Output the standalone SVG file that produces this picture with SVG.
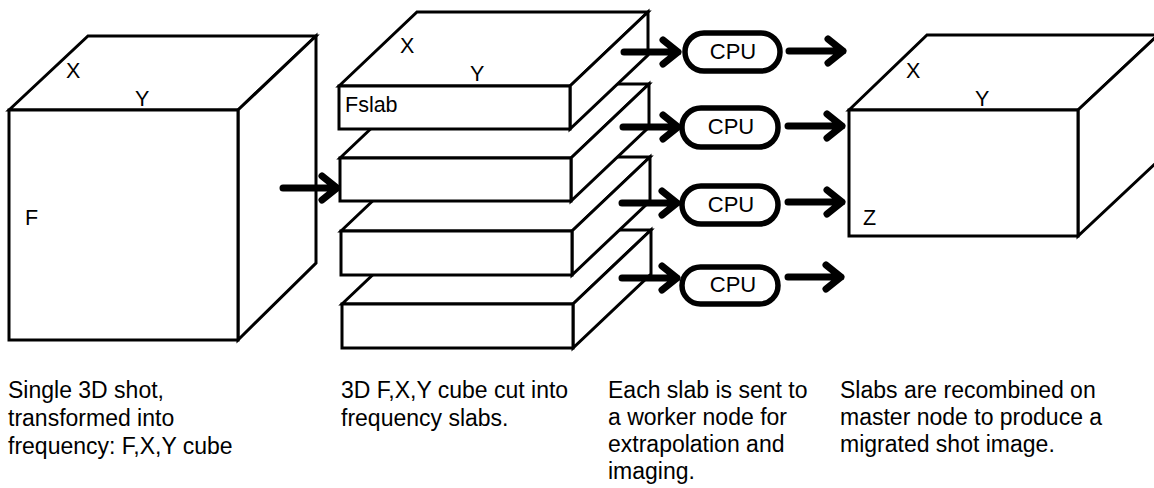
<svg xmlns="http://www.w3.org/2000/svg" width="1154" height="488" viewBox="0 0 1154 488">
<style>
.s{fill:#fff;stroke:#000;stroke-width:3;stroke-linejoin:miter}
.a{fill:none;stroke:#000;stroke-width:7;stroke-linecap:round;stroke-linejoin:round}
.p{fill:#fff;stroke:#000;stroke-width:5.5}
.l{font-family:"Liberation Sans",Arial,sans-serif;font-size:21.5px;fill:#000}
.c{font-family:"Liberation Sans",Arial,sans-serif;font-size:22px;fill:#000;text-anchor:middle}
.t{font-family:"Liberation Sans",Arial,sans-serif;font-size:23px;fill:#000}
</style>
<rect width="1154" height="488" fill="#fff"/>
<g id="cube">
<polygon class="s" points="9,110 88,36 316,36 238,110"/>
<polygon class="s" points="238,110 316,36 316,263 238,340"/>
<rect class="s" x="9" y="110" width="229" height="230"/>
<text class="l" x="66" y="78">X</text>
<text class="l" x="135" y="106">Y</text>
<text class="l" x="25" y="225">F</text>
</g>
<g id="slab4">
<polygon class="s" points="342,304 420,230 651,230 573,304"/>
<polygon class="s" points="573,304 651,230 651,274 573,348"/>
<rect class="s" x="342" y="304" width="231" height="44"/>
</g>
<g id="slab3">
<polygon class="s" points="341,231 419,157 650,157 572,231"/>
<polygon class="s" points="572,231 650,157 650,201 572,275"/>
<rect class="s" x="341" y="231" width="231" height="44"/>
</g>
<g id="slab2">
<polygon class="s" points="340,158 418,84 649,84 571,158"/>
<polygon class="s" points="571,158 649,84 649,127 571,201"/>
<rect class="s" x="340" y="158" width="231" height="43"/>
</g>
<g id="slab1">
<polygon class="s" points="339,86 417,12 648,12 570,86"/>
<polygon class="s" points="570,86 648,12 648,55 570,129"/>
<rect class="s" x="339" y="86" width="231" height="43"/>
<text class="l" x="400" y="53">X</text>
<text class="l" x="470" y="81">Y</text>
<text class="l" x="345" y="112">Fslab</text>
</g>
<g id="cpu1"><rect class="p" x="685" y="33" width="95" height="38" rx="19"/><text class="c" x="733" y="59">CPU</text></g>
<g id="cpu2"><rect class="p" x="682" y="108" width="96" height="39" rx="19"/><text class="c" x="731" y="134">CPU</text></g>
<g id="cpu3"><rect class="p" x="682" y="186" width="96" height="38" rx="19"/><text class="c" x="731" y="212">CPU</text></g>
<g id="cpu4"><rect class="p" x="682" y="267" width="96" height="37" rx="18.5"/><text class="c" x="733" y="292">CPU</text></g>
<g id="result">
<polygon class="s" points="849,110 927,35 1158,35 1078,110"/>
<polygon class="s" points="1078,110 1158,35 1158,161 1078,236"/>
<rect class="s" x="849" y="110" width="229" height="126"/>
<text class="l" x="906" y="78">X</text>
<text class="l" x="975" y="106">Y</text>
<text class="l" x="863" y="225">Z</text>
</g>
<g id="connectors">
<path class="a" d="M283,188 H337 M322,176 L337,188 L322,200"/>
<path class="a" d="M624,52 H678 M663,40 L678,52 L663,64"/>
<path class="a" d="M623,127 H678 M663,115 L678,127 L663,139"/>
<path class="a" d="M622,203 H677 M662,191 L677,203 L662,215"/>
<path class="a" d="M622,278 H677 M662,266 L677,278 L662,290"/>
<path class="a" d="M789,51 H843 M828,39 L843,51 L828,63"/>
<path class="a" d="M788,126 H842 M827,114 L842,126 L827,138"/>
<path class="a" d="M788,202 H842 M827,190 L842,202 L827,214"/>
<path class="a" d="M788,277 H841 M826,265 L841,277 L826,289"/>
</g>
<g id="captions">
<text class="t" x="8" y="398">Single 3D shot,</text>
<text class="t" x="8" y="426">transformed into</text>
<text class="t" x="8" y="454">frequency: F,X,Y cube</text>
<text class="t" x="341" y="398">3D F,X,Y cube cut into</text>
<text class="t" x="341" y="426">frequency slabs.</text>
<text class="t" x="608" y="398">Each slab is sent to</text>
<text class="t" x="608" y="425">a worker node for</text>
<text class="t" x="608" y="452">extrapolation and</text>
<text class="t" x="608" y="479">imaging.</text>
<text class="t" x="840" y="398">Slabs are recombined on</text>
<text class="t" x="840" y="425">master node to produce a</text>
<text class="t" x="840" y="452">migrated shot image.</text>
</g>
</svg>
